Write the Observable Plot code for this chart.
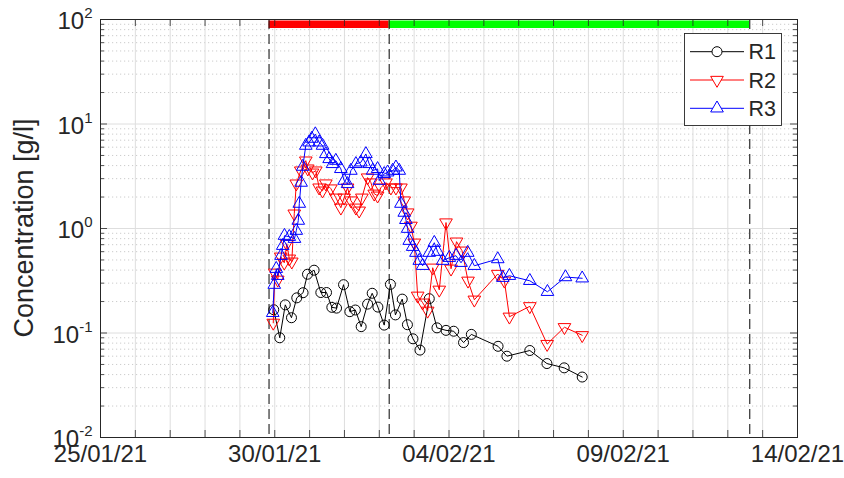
<!DOCTYPE html>
<html><head><meta charset="utf-8">
<script src="https://cdn.jsdelivr.net/npm/d3@7"></script>
<script src="https://cdn.jsdelivr.net/npm/@observablehq/plot@0.6"></script>
<style>
body{margin:0;background:#fff;}
svg{font-family:"Liberation Sans",Arial,Helvetica,sans-serif;}
</style>
</head><body><div id="chart"></div>
<script>
// time axis: days since 25/01/21 00:00 (UTC)
const startDate = Date.UTC(2021, 0, 25);
const seriesNames = ["R1", "R2", "R3"];
const seriesColors = ["#000000", "#ff0000", "#0000ff"];

const r1Days = [4.971,5.144,5.302,5.480,5.632,5.813,5.940,6.129,6.322,6.486,6.638,6.773,6.974,7.155,7.313,7.480,7.664,7.796,7.960,8.141,8.319,8.463,8.658,8.807,8.966,9.167,9.434,9.655,9.914,10.135,10.417,10.641,11.408,11.661,12.319,12.810,13.305,13.822];
const r1Conc = [0.167,0.090,0.186,0.140,0.217,0.243,0.365,0.399,0.244,0.244,0.176,0.173,0.290,0.160,0.166,0.115,0.189,0.240,0.177,0.119,0.292,0.149,0.211,0.120,0.088,0.0686,0.213,0.112,0.106,0.104,0.081,0.097,0.0746,0.060,0.068,0.051,0.0464,0.0379];

const r2Days = [4.957,5.000,5.086,5.172,5.273,5.345,5.417,5.489,5.560,5.618,5.747,5.891,5.948,6.083,6.178,6.273,6.371,6.466,6.609,6.753,6.897,6.991,7.089,7.184,7.328,7.422,7.500,7.664,7.759,7.854,7.951,8.046,8.190,8.333,8.477,8.621,8.716,8.813,8.908,9.003,9.101,9.244,9.388,9.532,9.721,9.914,10.058,10.216,10.374,10.546,10.727,11.399,11.589,11.733,12.319,12.816,13.313,13.822];
const r2Conc = [0.125,0.377,0.323,0.537,0.470,0.715,0.514,0.481,1.386,2.686,3.58,4.46,3.74,3.42,3.58,2.46,2.30,2.69,2.41,1.97,1.58,1.97,2.46,1.85,1.58,1.48,1.97,3.07,2.75,2.15,2.06,2.46,2.75,2.46,2.46,2.46,1.85,1.42,1.06,0.731,0.227,0.195,0.163,0.421,0.259,1.14,0.412,0.748,0.613,0.316,0.208,0.367,0.316,0.143,0.180,0.0783,0.1135,0.0951];

const r3Days = [4.943,4.986,5.043,5.086,5.181,5.230,5.279,5.417,5.566,5.618,5.675,5.704,5.756,5.805,5.891,5.986,6.063,6.164,6.273,6.371,6.466,6.560,6.658,6.753,6.897,6.991,7.089,7.184,7.328,7.471,7.615,7.710,7.808,7.951,7.997,8.141,8.239,8.382,8.477,8.572,8.621,8.716,8.764,8.813,8.859,8.957,9.052,9.147,9.244,9.434,9.578,9.675,9.819,10.009,10.201,10.345,10.537,10.727,11.399,11.543,11.733,12.319,12.825,13.342,13.822];
const r3Conc = [0.156,0.290,0.412,0.353,0.549,0.684,0.853,0.834,0.798,0.953,1.19,1.73,2.75,3.91,6.21,6.68,7.25,8.00,6.68,6.21,5.17,4.63,4.15,4.46,3.72,2.87,2.67,3.58,4.15,4.30,5.17,4.15,3.58,3.72,2.87,3.33,3.45,3.58,3.85,3.58,1.73,1.42,1.21,0.996,0.764,0.669,0.587,0.492,0.440,0.587,0.731,0.600,0.492,0.525,0.549,0.470,0.587,0.440,0.510,0.338,0.353,0.316,0.248,0.343,0.334];

// phases (top bars) and event lines
const phaseStartDays = [4.836, 8.284];
const phaseEndDays = [8.284, 18.63];
const phaseColors = ["#ff0000", "#00ff00"];
const phaseLevel = 90;
const eventDays = [4.836, 8.284, 18.63];

// axes
const xDomainDays = [0, 20];
const xLabelDays = [0, 5, 10, 15, 20];
const yTicks = [0.01, 0.1, 1, 10, 100];
const yLabel = "Concentration [g/l]";

// ---------- build ----------
const toDate = d => new Date(startDate + d * 864e5);
const allDays = [r1Days, r2Days, r3Days];
const allConc = [r1Conc, r2Conc, r3Conc];
const series = seriesNames.map((name, i) => allDays[i].map((d, j) => ({t: toDate(d), c: allConc[i][j], s: name})));
const dayTicks = d3.range(xDomainDays[0], xDomainDays[1] + 1).map(toDate);
const minorTicks = [];
for (const dec of [0.01, 0.1, 1, 10]) for (let k = 2; k <= 9; k++) minorTicks.push(k * dec);

const sqrt3 = Math.sqrt(3);
const triDown = {draw(ctx, size) {
  const y = -Math.sqrt(size / (sqrt3 * 3));
  ctx.moveTo(0, -2 * y); ctx.lineTo(-sqrt3 * y, y); ctx.lineTo(sqrt3 * y, y); ctx.closePath();
}};
const symbols = ["circle", triDown, "triangle"];
const symbolR = [5, 4.7, 4.7];
const symbolObj = [d3.symbolCircle, triDown, d3.symbolTriangle];

const W = 844, Hh = 478, mL = 100, mR = 47, mT = 19, mB = 41;
const PW = W - mL - mR, PH = Hh - mT - mB;
const AX = "#262626";

const marks = [
  Plot.gridY(minorTicks, {stroke: "#bfbfbf", strokeOpacity: 1, strokeWidth: 0.8, strokeDasharray: "1.2,2.8"}),
  Plot.gridY(yTicks, {stroke: "#dedede", strokeOpacity: 1}),
  Plot.gridX(dayTicks, {stroke: "#dedede", strokeOpacity: 1}),
  ...phaseColors.map((col, i) => Plot.ruleY([{a: toDate(phaseStartDays[i]), b: toDate(phaseEndDays[i]), y: phaseLevel}], {x1: "a", x2: "b", y: "y", stroke: col, strokeWidth: 7.5})),
  Plot.ruleX(eventDays.map(toDate), {stroke: "#1a1a1a", strokeWidth: 1.1, strokeDasharray: "10,5"}),
];
series.forEach((rows, i) => {
  marks.push(Plot.line(rows, {x: "t", y: "c", stroke: seriesColors[i], strokeWidth: 1}));
  marks.push(Plot.dot(rows, {x: "t", y: "c", symbol: symbols[i], r: symbolR[i], stroke: seriesColors[i], fill: "none", strokeWidth: 1}));
});
marks.push(
  Plot.tickX(dayTicks, {x: d => d, stroke: AX, strokeWidth: 0.8, insetTop: PH - 7}),
  Plot.tickX(dayTicks, {x: d => d, stroke: AX, strokeWidth: 0.8, insetBottom: PH - 7}),
  Plot.tickY(yTicks, {y: d => d, stroke: AX, strokeWidth: 0.8, insetRight: PW - 7}),
  Plot.tickY(yTicks, {y: d => d, stroke: AX, strokeWidth: 0.8, insetLeft: PW - 7}),
  Plot.tickY(minorTicks, {y: d => d, stroke: AX, strokeWidth: 0.8, insetRight: PW - 4}),
  Plot.tickY(minorTicks, {y: d => d, stroke: AX, strokeWidth: 0.8, insetLeft: PW - 4}),
  Plot.frame({stroke: AX, strokeWidth: 1}),
  Plot.axisX(xLabelDays.map(toDate), {anchor: "bottom", tickSize: 0, tickPadding: 7, fontSize: 24, label: null, tickFormat: d3.utcFormat("%d/%m/%y")}),
  Plot.axisY(yTicks, {anchor: "left", tickSize: 0, tickPadding: 8, fontSize: 24, label: null, tickFormat: d => "10^" + Math.round(Math.log10(d))})
);

const fig = Plot.plot({
  width: W, height: Hh,
  marginLeft: mL, marginRight: mR, marginTop: mT, marginBottom: mB,
  style: {fontFamily: '"Liberation Sans",Arial,Helvetica,sans-serif', background: "#fff", color: AX},
  x: {type: "utc", domain: xDomainDays.map(toDate), axis: null},
  y: {type: "log", domain: [yTicks[0], yTicks[yTicks.length - 1]], axis: null},
  marks
});
document.getElementById("chart").appendChild(fig);

const svg = d3.select(fig);
// superscript exponents on y tick labels
svg.selectAll('g[aria-label="y-axis tick label"] text').each(function () {
  const parts = this.textContent.split("^");
  const t = d3.select(this);
  t.text(null);
  t.append("tspan").attr("dy", 2).text(parts[0]);
  t.append("tspan").attr("dy", -11).attr("font-size", 15).text(parts[1]);
});

// y axis title
svg.append("text")
  .attr("transform", "translate(33," + (mT + PH / 2) + ") rotate(-90)")
  .attr("text-anchor", "middle")
  .attr("font-size", 27)
  .attr("fill", AX)
  .text(yLabel);

// legend
const lg = svg.append("g");
lg.append("rect").attr("x", 684.5).attr("y", 33.5).attr("width", 97).attr("height", 92)
  .attr("fill", "#fff").attr("stroke", AX).attr("stroke-width", 0.9);
seriesNames.forEach((name, i) => {
  const yy = 51.7 + i * 28.3;
  lg.append("line").attr("x1", 690).attr("x2", 744).attr("y1", yy).attr("y2", yy)
    .attr("stroke", seriesColors[i]).attr("stroke-width", 1);
  lg.append("path").attr("transform", `translate(717,${yy})`)
    .attr("d", d3.symbol(symbolObj[i], symbolR[i] * symbolR[i] * Math.PI)())
    .attr("fill", "#fff").attr("stroke", seriesColors[i]).attr("stroke-width", 1);
  lg.append("text").attr("x", 748.5).attr("y", yy + 7.7).attr("font-size", 21.5)
    .attr("text-anchor", "start")
    .attr("fill", AX).text(name);
});
</script>
</body></html>
